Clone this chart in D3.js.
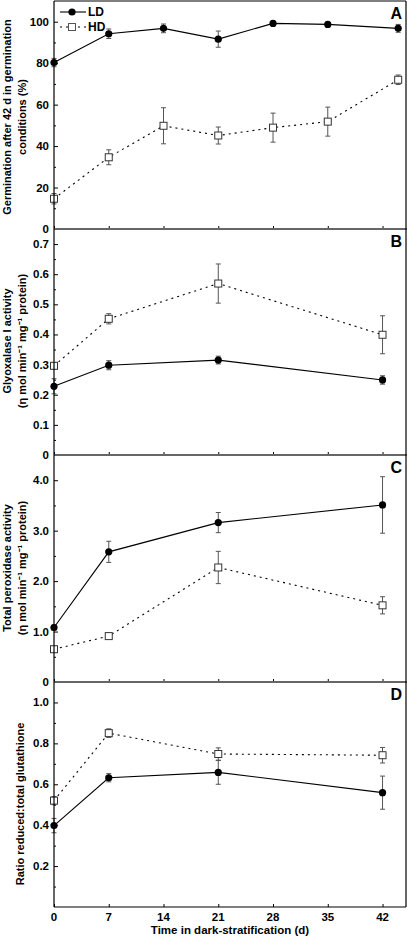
<!DOCTYPE html>
<html><head><meta charset="utf-8">
<script src="https://cdn.jsdelivr.net/npm/d3@7"></script>
<style>body{margin:0;background:#fff;} text{font-family:Arial,"Liberation Sans",sans-serif;font-weight:bold;}</style>
</head><body><svg id="c" width="408" height="937"></svg>
<script>
// ---- data ----
const daysA = [0, 7, 14, 21, 28, 35, 44];
const daysBCD = [0, 7, 21, 42];
const xTicks = [0, 7, 14, 21, 28, 35, 42];

const A_LD = [80.3, 94.2, 96.8, 91.6, 99.2, 98.7, 96.8];
const A_LD_err = [2, 2.3, 2.1, 3.9, 1, 1, 1.9];
const A_HD = [14.6, 34.6, 49.8, 45.1, 48.9, 51.8, 72];
const A_HD_err = [2.5, 3.6, 8.7, 4.1, 7, 7, 2.3];

const B_LD = [0.228, 0.298, 0.315, 0.249];
const B_LD_err = [0.025, 0.015, 0.013, 0.014];
const B_HD = [0.296, 0.452, 0.569, 0.399];
const B_HD_err = [0.01, 0.017, 0.065, 0.063];

const C_LD = [1.08, 2.58, 3.16, 3.51];
const C_LD_err = [0.05, 0.21, 0.2, 0.56];
const C_HD = [0.65, 0.91, 2.27, 1.52];
const C_HD_err = [0.03, 0.05, 0.32, 0.17];

const D_LD = [0.398, 0.632, 0.658, 0.559];
const D_LD_err = [0.035, 0.02, 0.058, 0.081];
const D_HD = [0.52, 0.85, 0.748, 0.742];
const D_HD_err = [0.02, 0.021, 0.03, 0.038];

const A_ticks = [0, 20, 40, 60, 80, 100];
const B_ticks = [0, 0.1, 0.2, 0.3, 0.4, 0.5, 0.6, 0.7];
const C_ticks = [0, 1, 2, 3, 4];
const D_ticks = [0.2, 0.4, 0.6, 0.8, 1.0];

const legendLabels = ["LD", "HD"];
const panelLetters = ["A", "B", "C", "D"];

// ---- drawing ----
const svg = d3.select("#c");
const L = 54, R = 406;
const x = d3.scaleLinear().domain([0, 45]).range([L, R]);

const panels = [
  {top: 1, bot: 229, dom: [0, 110], ticks: A_ticks, minor: d3.range(10, 110, 20), fmt: d => d3.format("d")(d),
   days: daysA, ld: A_LD, lde: A_LD_err, hd: A_HD, hde: A_HD_err,
   label: ["Germination after 42 d in germination", "conditions (%)"], lx: [11, 26], ly: 117},
  {top: 229, bot: 455, dom: [0, 0.75], ticks: B_ticks, minor: d3.range(0.05, 0.75, 0.1), fmt: d => d === 0 ? "0" : d3.format(".1f")(d),
   days: daysBCD, ld: B_LD, lde: B_LD_err, hd: B_HD, hde: B_HD_err,
   label: ["Glyoxalase I activity", "(η mol min\u207B\u00B9 mg\u207B\u00B9 protein)"], lx: [11, 26], ly: 341},
  {top: 455, bot: 682, dom: [0, 4.5], ticks: C_ticks, minor: d3.range(0.5, 4.5, 1), fmt: d => d === 0 ? "0" : d3.format(".1f")(d),
   days: daysBCD, ld: C_LD, lde: C_LD_err, hd: C_HD, hde: C_HD_err,
   label: ["Total peroxidase activity", "(η mol min\u207B\u00B9 mg\u207B\u00B9 protein)"], lx: [11, 26], ly: 568},
  {top: 682, bot: 907, dom: [0, 1.1], ticks: D_ticks, minor: d3.range(0.1, 1.1, 0.2), fmt: d => d3.format(".1f")(d),
   days: daysBCD, ld: D_LD, lde: D_LD_err, hd: D_HD, hde: D_HD_err,
   label: ["Ratio reduced:total glutathione"], lx: [24], ly: 804}
];

panels.forEach((p, i) => {
  const y = d3.scaleLinear().domain(p.dom).range([p.bot, p.top]);
  const g = svg.append("g");

  // y axis ticks (inward)
  const ya = d3.axisRight(y).tickValues(p.ticks).tickSize(4).tickFormat("");
  g.append("g").attr("transform", `translate(${L},0)`).call(ya)
    .call(s => s.select(".domain").remove())
    .selectAll("line").attr("stroke", "#000");
  const ym = d3.axisRight(y).tickValues(p.minor).tickSize(2).tickFormat("");
  g.append("g").attr("transform", `translate(${L},0)`).call(ym)
    .call(s => s.select(".domain").remove())
    .selectAll("line").attr("stroke", "#000");
  // tick labels
  g.selectAll(".yl").data(p.ticks).join("text")
    .attr("x", L - 5).attr("y", d => y(d) + 4).attr("text-anchor", "end")
    .attr("font-size", 11.5).text(p.fmt);

  // x axis ticks (inward, upward)
  const xa = d3.axisTop(x).tickValues(xTicks).tickSize(3).tickFormat("");
  g.append("g").attr("transform", `translate(0,${p.bot})`).call(xa)
    .call(s => s.select(".domain").remove())
    .selectAll("line").attr("stroke", "#000");

  // y label
  p.label.forEach((t, k) => {
    g.append("text").attr("transform", `translate(${p.lx[k]},${p.ly}) rotate(-90)`)
      .attr("text-anchor", "middle").attr("font-size", 11).text(t);
  });

  // panel letter
  g.append("text").attr("x", 402).attr("y", p.top + 18).attr("text-anchor", "end")
    .attr("font-size", 16).text(panelLetters[i]);

  const series = [
    {v: p.hd, e: p.hde, dash: "2,4", kind: "sq"},
    {v: p.ld, e: p.lde, dash: null, kind: "ci"}
  ];
  series.forEach(s => {
    const pts = p.days.map((d, j) => ({d, v: s.v[j], e: s.e[j]}));
    // error bars
    const eb = g.append("g").attr("stroke", "#555").attr("stroke-width", 1);
    pts.forEach(pt => {
      eb.append("line").attr("x1", x(pt.d)).attr("x2", x(pt.d)).attr("y1", y(pt.v - pt.e)).attr("y2", y(pt.v + pt.e));
      [pt.v - pt.e, pt.v + pt.e].forEach(v => eb.append("line").attr("x1", x(pt.d) - 2.5).attr("x2", x(pt.d) + 2.5).attr("y1", y(v)).attr("y2", y(v)));
    });
    g.append("path").datum(pts)
      .attr("d", d3.line().x(d => x(d.d)).y(d => y(d.v)))
      .attr("fill", "none").attr("stroke", "#000").attr("stroke-width", 1.1)
      .attr("stroke-dasharray", s.dash);
    if (s.kind === "sq") {
      g.selectAll(null).data(pts).join("rect")
        .attr("x", d => x(d.d) - 3.5).attr("y", d => y(d.v) - 3.5).attr("width", 7).attr("height", 7)
        .attr("fill", "#fff").attr("stroke", "#333").attr("stroke-width", 1);
    } else {
      g.selectAll(null).data(pts).join("circle")
        .attr("cx", d => x(d.d)).attr("cy", d => y(d.v)).attr("r", 3.6).attr("fill", "#000");
    }
  });

  // separator / bottom line
  if (i < 3) {
    svg.append("line").attr("x1", L).attr("x2", R + 1).attr("y1", p.bot).attr("y2", p.bot)
      .attr("stroke", "#666").attr("stroke-width", 2);
  }
});

// frame
svg.append("line").attr("x1", L).attr("x2", L).attr("y1", 1).attr("y2", 907).attr("stroke", "#000").attr("stroke-width", 1.2);
svg.append("line").attr("x1", R).attr("x2", R).attr("y1", 1).attr("y2", 907).attr("stroke", "#000").attr("stroke-width", 1.2);
svg.append("line").attr("x1", L).attr("x2", R).attr("y1", 1).attr("y2", 1).attr("stroke", "#000").attr("stroke-width", 1.2);
svg.append("line").attr("x1", L).attr("x2", R).attr("y1", 907).attr("y2", 907).attr("stroke", "#000").attr("stroke-width", 1.2);

// x tick labels
svg.selectAll(".xl").data(xTicks).join("text")
  .attr("x", d => x(d)).attr("y", 921).attr("text-anchor", "middle").attr("font-size", 11.5).text(d => d);
svg.append("text").attr("x", 230).attr("y", 934).attr("text-anchor", "middle").attr("font-size", 11.5)
  .text("Time in dark-stratification (d)");

// legend
const lg = svg.append("g");
lg.append("line").attr("x1", 60).attr("x2", 86).attr("y1", 12).attr("y2", 12).attr("stroke", "#000").attr("stroke-width", 1.1);
lg.append("circle").attr("cx", 72).attr("cy", 12).attr("r", 3.6).attr("fill", "#000");
lg.append("text").attr("x", 88).attr("y", 16).attr("font-size", 12).text(legendLabels[0]);
lg.append("line").attr("x1", 60).attr("x2", 86).attr("y1", 27).attr("y2", 27).attr("stroke", "#000").attr("stroke-width", 1.1).attr("stroke-dasharray", "2,4");
lg.append("rect").attr("x", 68.5).attr("y", 23.5).attr("width", 7).attr("height", 7).attr("fill", "#fff").attr("stroke", "#555");
lg.append("text").attr("x", 88).attr("y", 31).attr("font-size", 12).text(legendLabels[1]);
</script></body></html>
